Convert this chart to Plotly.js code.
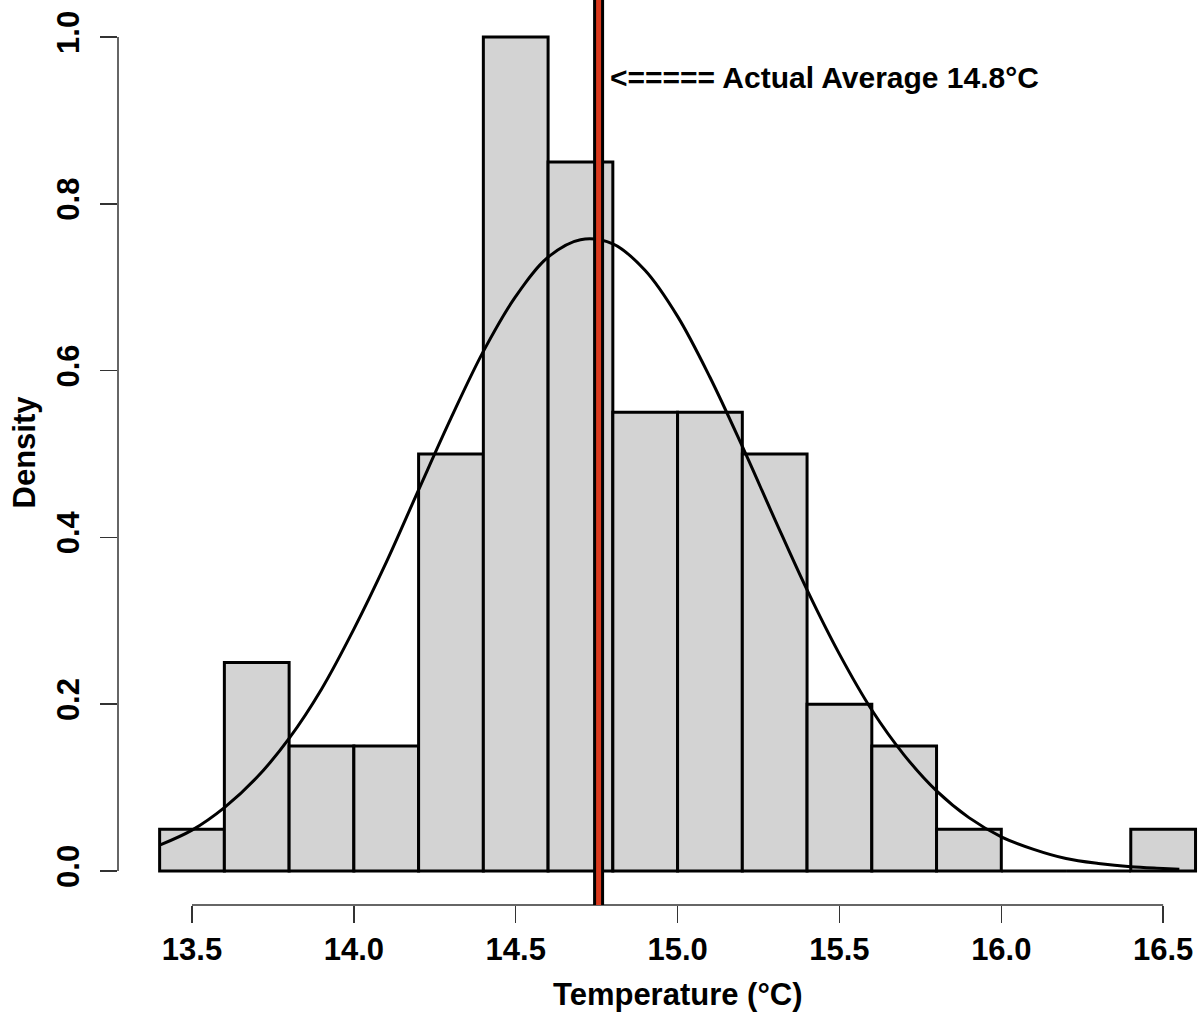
<!DOCTYPE html>
<html>
<head>
<meta charset="utf-8">
<script src="https://cdn.plot.ly/plotly-3.0.1.min.js"></script>
<style>html,body{margin:0;padding:0;background:#fff;}#chart{width:1202px;height:1019px;}</style>
</head>
<body>
<div id="chart"></div>
<script>
// Histogram bins (lower edge) and densities
const binLower = [13.4, 13.6, 13.8, 14.0, 14.2, 14.4, 14.6, 14.8, 15.0, 15.2, 15.4, 15.6, 15.8, 16.0, 16.2, 16.4];
const density  = [0.05, 0.25, 0.15, 0.15, 0.50, 1.00, 0.85, 0.55, 0.55, 0.50, 0.20, 0.15, 0.05, 0.00, 0.00, 0.05];
const binWidth = 0.2;

// Fitted curve
const curveX = [13.40, 13.50, 13.60, 13.70, 13.80, 13.90, 14.00, 14.10, 14.20, 14.30, 14.40, 14.50, 14.60, 14.70, 14.80, 14.90, 15.00, 15.10, 15.20, 15.30, 15.40, 15.50, 15.60, 15.70, 15.80, 15.90, 16.00, 16.10, 16.20, 16.30, 16.40, 16.50, 16.55];
const curveY = [0.031, 0.049, 0.076, 0.112, 0.159, 0.218, 0.290, 0.370, 0.457, 0.543, 0.623, 0.689, 0.736, 0.757, 0.752, 0.720, 0.665, 0.592, 0.509, 0.422, 0.337, 0.260, 0.193, 0.139, 0.096, 0.064, 0.041, 0.026, 0.015, 0.009, 0.005, 0.003, 0.002];

// Actual average marker
const avgValue = 14.756;
const avgLabel = "<===== Actual Average 14.8°C";

// Axis ticks
const xTickVals = [13.5, 14.0, 14.5, 15.0, 15.5, 16.0, 16.5];
const xTickText = ["13.5", "14.0", "14.5", "15.0", "15.5", "16.0", "16.5"];
const yTickVals = [0, 0.2, 0.4, 0.6, 0.8, 1.0];
const yTickText = ["0.0", "0.2", "0.4", "0.6", "0.8", "1.0"];
const xTitle = "Temperature (°C)";
const yTitle = "Density";

const FONT = "Liberation Sans, Arial, Helvetica, sans-serif";
const binCenters = binLower.map(v => v + binWidth / 2);

const traces = [
  {
    type: 'bar', x: binCenters, y: density, width: binWidth,
    marker: {color: '#d3d3d3', line: {color: '#000', width: 3}},
    hoverinfo: 'skip', showlegend: false
  },
  {
    type: 'scatter', mode: 'lines', x: curveX, y: curveY,
    line: {color: '#000', width: 3, shape: 'spline', smoothing: 1},
    hoverinfo: 'skip', showlegend: false
  }
];

const layout = {
  width: 1202, height: 1019,
  margin: {l: 118, r: 0, t: 0, b: 114, pad: 0},
  paper_bgcolor: '#fff', plot_bgcolor: '#fff',
  showlegend: false,
  bargap: 0,
  xaxis: {
    range: [13.2714, 16.62], showgrid: false, zeroline: false, showline: false,
    tickvals: xTickVals, ticktext: xTickText,
    ticks: 'outside', ticklen: 17, tickwidth: 1.5, tickcolor: '#333',
    ticklabelstandoff: 0,
    tickfont: {family: FONT, size: 31, color: '#000', weight: 'bold'}
  },
  yaxis: {
    range: [-0.04077, 1.04436], showgrid: false, zeroline: false, showline: false,
    tickvals: yTickVals, ticktext: yTickText,
    ticks: 'outside', ticklen: 17, tickwidth: 1.5, tickcolor: '#333',
    tickangle: -90, ticklabelstandoff: 9,
    tickfont: {family: FONT, size: 31, color: '#000', weight: 'bold'},
    title: {text: yTitle, standoff: 5, font: {family: FONT, size: 31, color: '#000', weight: 'bold'}}
  },
  shapes: [
    {type: 'line', xref: 'x', yref: 'paper', x0: xTickVals[0], x1: xTickVals[xTickVals.length - 1], y0: 0, y1: 0,
     line: {color: '#333', width: 1.5}},
    {type: 'line', xref: 'paper', yref: 'y', x0: 0, x1: 0, y0: yTickVals[0], y1: yTickVals[yTickVals.length - 1],
     line: {color: '#333', width: 1.5}},
    {type: 'line', xref: 'x', yref: 'paper', x0: avgValue, x1: avgValue, y0: 0, y1: 1,
     line: {color: '#000', width: 11}},
    {type: 'line', xref: 'x', yref: 'paper', x0: avgValue, x1: avgValue, y0: 0, y1: 1,
     line: {color: '#d93a1e', width: 5}}
  ],
  annotations: [
    {xref: 'x', yref: 'y', x: avgValue, y: 0.952, xanchor: 'left', yanchor: 'middle', xshift: 9,
     text: avgLabel, showarrow: false,
     font: {family: FONT, size: 30, color: '#000', weight: 'bold'}},
    {xref: 'x', yref: 'paper', x: 15.0, y: 0, yanchor: 'top', yshift: -70,
     text: xTitle, showarrow: false,
     font: {family: FONT, size: 31, color: '#000', weight: 'bold'}}
  ]
};

Plotly.newPlot('chart', traces, layout, {displayModeBar: false, staticPlot: true});
</script>
</body>
</html>
